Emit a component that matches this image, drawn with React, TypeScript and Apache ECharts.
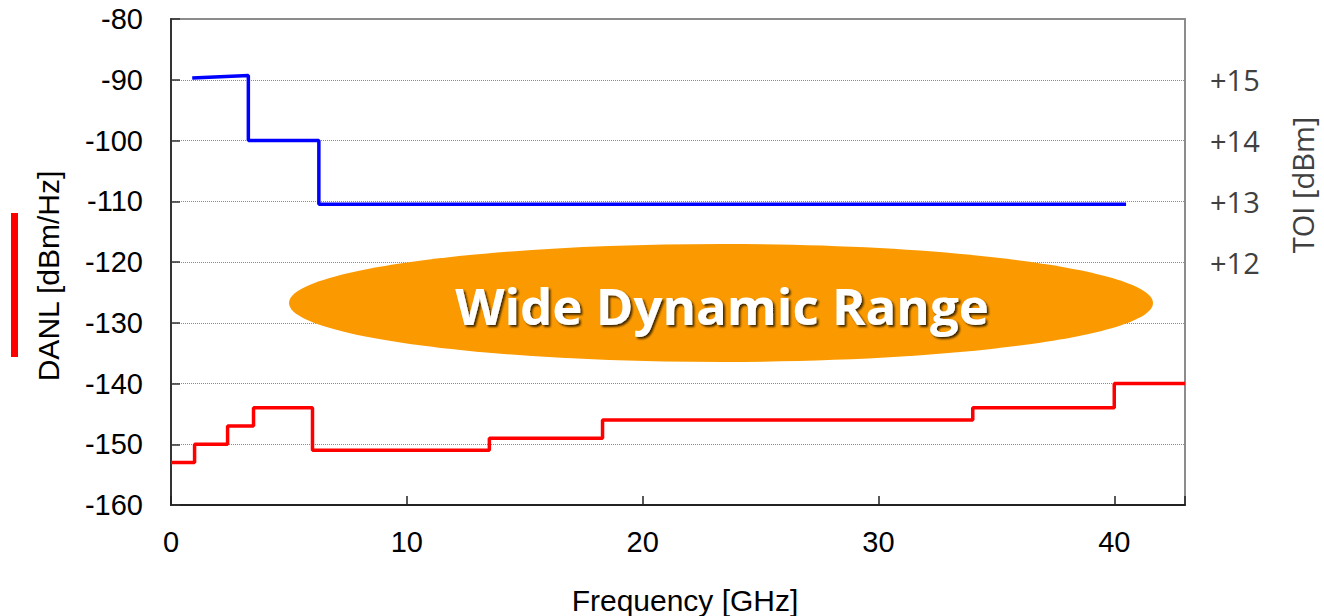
import React, { useEffect, useRef } from "react";
import * as echarts from "echarts";

// DANL step data (frequency in GHz, level in dBm/Hz); each level holds until the next frequency
const danlFreq = [0, 1, 2.4, 3.5, 6.0, 13.5, 18.3, 34.0, 40.0, 43.0];
const danlLevel = [-153, -150, -147, -144, -151, -149, -146, -144, -140, -140];

// TOI points (frequency in GHz, TOI in dBm)
const toiFreq = [0.9, 3.28, 3.28, 6.27, 6.27, 40.5];
const toiLevel = [15.03, 15.07, 14, 14, 12.95, 12.95];

const leftTicks = { min: -160, max: -80, interval: 10 };
const rightTicks = { min: 8, max: 16, interval: 1, shown: [12, 13, 14, 15] };
const xTicks = { min: 0, max: 43, interval: 10 };

export default function App() {
  const ref = useRef<HTMLDivElement>(null);
  useEffect(() => {
    if (!ref.current) return;
    const chart = echarts.init(ref.current, null, { renderer: "svg" });
    const arial = "'Liberation Sans', Arial, sans-serif";
    const segoe = "'Open Sans', 'Noto Sans', sans-serif";
    chart.setOption({
      animation: false,
      backgroundColor: "#ffffff",
      grid: {
        left: 171,
        right: 139,
        top: 19,
        bottom: 111,
        show: true,
        borderColor: "#8c8c8c",
        borderWidth: 2,
        containLabel: false,
      },
      xAxis: {
        type: "value",
        min: xTicks.min,
        max: xTicks.max,
        interval: xTicks.interval,
        axisLine: { show: true, lineStyle: { color: "#222", width: 2 } },
        axisTick: { show: true, inside: true, length: 9, lineStyle: { color: "#222", width: 1.5 } },
        axisLabel: {
          margin: 22,
          fontSize: 29,
          fontFamily: arial,
          color: "#000",
          formatter: (v: number) => (v % 10 === 0 ? String(v) : ""),
        },
        splitLine: { show: false },
      },
      yAxis: [
        {
          type: "value",
          position: "left",
          min: leftTicks.min,
          max: leftTicks.max,
          interval: leftTicks.interval,
          axisLine: { show: true, lineStyle: { color: "#333", width: 2 } },
          axisTick: { show: true, inside: true, length: 9, lineStyle: { color: "#333", width: 1.5 } },
          axisLabel: { margin: 28, fontSize: 29, fontFamily: arial, color: "#000" },
          splitLine: { show: true, lineStyle: { type: [1, 1], color: "#8a8a8a", width: 1 } },
        },
        {
          type: "value",
          position: "right",
          min: rightTicks.min,
          max: rightTicks.max,
          interval: rightTicks.interval,
          axisLine: { show: false },
          axisTick: { show: false },
          splitLine: { show: false },
          axisLabel: {
            margin: 25,
            fontSize: 29,
            fontFamily: segoe,
            color: "#404040",
            formatter: (v: number) => (rightTicks.shown.indexOf(v) >= 0 ? "+" + v : ""),
          },
        },
      ],
      series: [
        {
          name: "DANL",
          type: "line",
          yAxisIndex: 0,
          step: "end",
          symbol: "none",
          data: danlFreq.map((f, i) => [f, danlLevel[i]]),
          lineStyle: { color: "#ff0000", width: 3.5 },
          itemStyle: { color: "#ff0000" },
          z: 5,
        },
        {
          name: "TOI",
          type: "line",
          yAxisIndex: 1,
          symbol: "none",
          data: toiFreq.map((f, i) => [f, toiLevel[i]]),
          lineStyle: { color: "#0000ff", width: 3.5 },
          itemStyle: { color: "#0000ff" },
          z: 5,
        },
      ],
      graphic: [
        {
          type: "ellipse",
          shape: { cx: 721, cy: 303, rx: 432, ry: 59 },
          style: { fill: "#fb9a00" },
          z: 10,
        },
        {
          type: "text",
          x: 722,
          y: 305,
          z: 11,
          style: {
            text: "Wide Dynamic Range",
            fill: "#ffffff",
            font: "bold 51px 'Open Sans', 'Noto Sans', sans-serif",
            align: "center",
            verticalAlign: "middle",
            textShadowColor: "rgba(0,0,0,0.75)",
            textShadowBlur: 2,
            textShadowOffsetX: 2,
            textShadowOffsetY: 2,
          },
        },
        {
          type: "rect",
          shape: { x: 11, y: 213, width: 7, height: 144 },
          style: { fill: "#ff0000" },
          z: 10,
        },
        {
          type: "text",
          x: 48,
          y: 276,
          rotation: Math.PI / 2,
          z: 10,
          style: {
            text: "DANL [dBm/Hz]",
            fill: "#000",
            font: "30px 'Liberation Sans', Arial, sans-serif",
            align: "center",
            verticalAlign: "middle",
          },
        },
        {
          type: "text",
          x: 1302,
          y: 185,
          rotation: Math.PI / 2,
          z: 10,
          style: {
            text: "TOI [dBm]",
            fill: "#404040",
            font: "29px 'Open Sans', 'Noto Sans', sans-serif",
            align: "center",
            verticalAlign: "middle",
          },
        },
        {
          type: "text",
          x: 685,
          y: 600,
          z: 10,
          style: {
            text: "Frequency [GHz]",
            fill: "#000",
            font: "30px 'Liberation Sans', Arial, sans-serif",
            align: "center",
            verticalAlign: "middle",
          },
        },
      ],
    });
    return () => chart.dispose();
  }, []);
  return (
    <div
      ref={ref}
      style={{ position: "fixed", left: 0, top: 0, width: 1324, height: 616 }}
    />
  );
}
